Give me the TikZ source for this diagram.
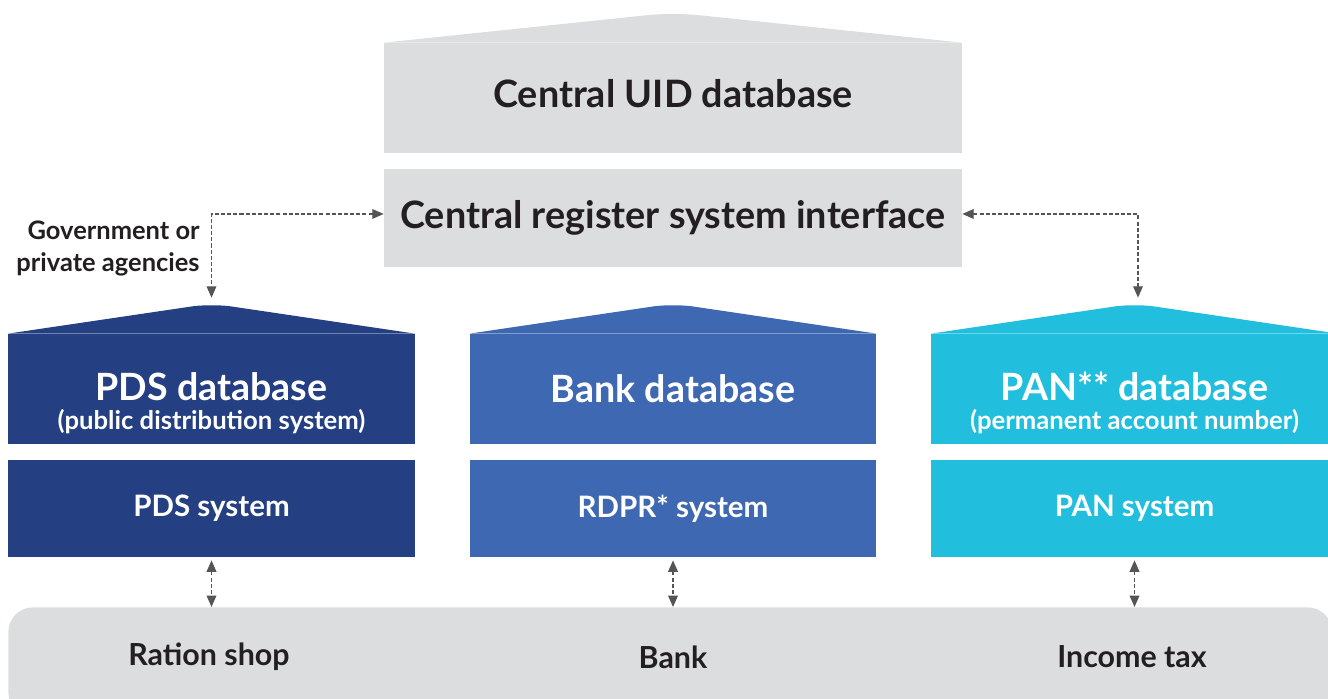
\documentclass[tikz,border=0pt]{standalone}
\usepackage{fontspec}
\setmainfont{Lato}
\usetikzlibrary{arrows.meta,calc}
\definecolor{uidgray}{RGB}{220,221,223}
\definecolor{pdsblue}{RGB}{36,63,130}
\definecolor{bankblue}{RGB}{63,104,178}
\definecolor{pancyan}{RGB}{34,190,222}
\definecolor{textdark}{RGB}{35,31,32}
\definecolor{arrowgray}{RGB}{85,85,85}

\begin{document}
\begin{tikzpicture}[x=0.02cm,y=-0.02cm,
  centralbox/.style={fill=uidgray,text=textdark,minimum width=11.56cm,inner sep=0pt,
    font=\bfseries\fontsize{21.5}{26}\selectfont},
  dbbox/.style={minimum width=8.14cm,minimum height=2.2cm,inner sep=0pt,text=white,
    align=center,font=\bfseries\fontsize{21.4}{26}\selectfont},
  sysbox/.style={minimum width=8.14cm,minimum height=1.94cm,inner sep=0pt,text=white,
    font=\bfseries\fontsize{16.8}{19}\selectfont},
  place/.style={text=textdark,font=\bfseries\fontsize{17.3}{20}\selectfont},
  link/.style={arrowgray,line width=0.8pt,dash pattern=on 2.3pt off 1.2pt,
    {Triangle[length=6.5pt,width=5.5pt]}-{Triangle[length=6.5pt,width=5.5pt]}}]

\useasboundingbox (0,0) rectangle (1328,698);

% central part
\node (uid) [centralbox,minimum height=2.2cm,text depth=5.7pt] at (673,98) {Central UID database};
\fill [uidgray] (uid.north west) -- ($(uid.north)+(-25,-27.6)$)
  .. controls ($(uid.north)+(-12,-29)$) and ($(uid.north)+(12,-29)$) .. ($(uid.north)+(25,-27.6)$)
  -- (uid.north east) -- cycle;
\node (iface) [centralbox,minimum height=1.96cm] at (673,218) {Central register system interface};

% databases
\node (pds) [dbbox,fill=pdsblue] at (211.5,389)
  {\rule{0pt}{32pt}PDS database\\[-9.3pt]{\fontsize{14.6}{17}\selectfont(public distribution system)}};
\node (bank) [dbbox,fill=bankblue] at (673,389) {Bank database};
\node (pan) [dbbox,fill=pancyan] at (1134.5,389)
  {\rule{0pt}{32pt}PAN** database\\[-9.3pt]{\fontsize{14.6}{17}\selectfont(permanent account number)}};
\foreach \db/\col in {pds/pdsblue,bank/bankblue,pan/pancyan}
  \fill [\col] (\db.north west) -- ($(\db.north)+(-22,-26.9)$)
    .. controls ($(\db.north)+(-11,-28.9)$) and ($(\db.north)+(11,-28.9)$) .. ($(\db.north)+(22,-26.9)$)
    -- (\db.north east) -- cycle;

% systems
\node (pdssys) [sysbox,fill=pdsblue] at (211.5,508.5) {PDS system};
\node (banksys) [sysbox,fill=bankblue] at (673,508.5) {RDPR* system};
\node (pansys) [sysbox,fill=pancyan] at (1134.5,508.5) {PAN system};

% users
\node (users) [fill=uidgray,rounded corners=14pt,minimum width=26.48cm,minimum height=2.2cm,
  inner sep=0pt,anchor=north west] at (8,607) {};
\node (shop) [place] at (209,657) {Ration shop};
\node (bankuser) [place] at (673,657) {Bank};
\node (tax) [place] at (1132,657) {Income tax};

\node (agency) [text=textdark,align=right,anchor=east,inner sep=0pt,
  font=\bfseries\fontsize{14.5}{18.2}\selectfont] at (200,248) {Government or\\private agencies};

% links
\coordinate (pdstop) at ($(pds.north)+(0,-36)$);
\coordinate (pantop) at ($(pan.north)+(3.5,-36)$);
\draw [link] ([yshift=2.3pt]iface.west) -| (pdstop);
\draw [link] ([yshift=2.3pt]iface.east) -| (pantop);
\foreach \sys in {pdssys,banksys,pansys}
  \draw [link] ([yshift=-1.7pt]\sys.south) -- (\sys.south |- users.north);
\end{tikzpicture}
\end{document}
